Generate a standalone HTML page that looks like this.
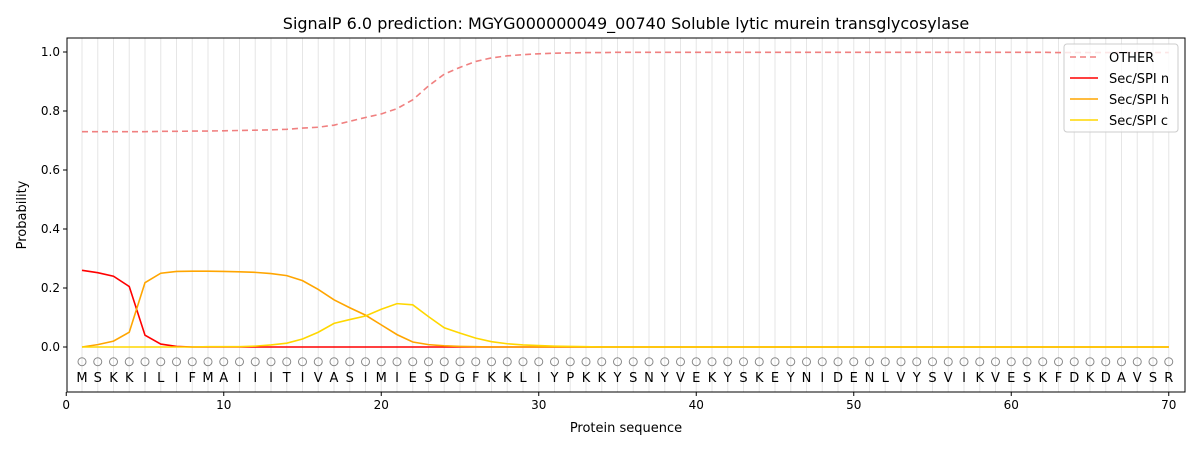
<!DOCTYPE html>
<html><head><meta charset="utf-8"><style>
body{margin:0;background:#fff;font-family:"Liberation Sans","DejaVu Sans",sans-serif}
svg text{font-family:"DejaVu Sans","Liberation Sans",sans-serif}
</style></head><body>
<svg id="chart" width="1200" height="450" xmlns="http://www.w3.org/2000/svg">
<rect width="1200" height="450" fill="#fff"/>
<text x="626" y="29" text-anchor="middle" font-size="16">SignalP 6.0 prediction: MGYG000000049_00740 Soluble lytic murein transglycosylase</text>
<g id="grid"></g><g id="marks"></g><g id="axes"></g>
<text x="626" y="432" text-anchor="middle" font-size="13">Protein sequence</text>
<text transform="translate(26,215) rotate(-90)" text-anchor="middle" font-size="13">Probability</text>
</svg>
<script>
const sequence = "MSKKILIFMAIIITIVASIMIESDGFKKLIYPKKYSNYVEKYSKEYNIDENLVYSVIKVESKFDKDAVSR".split("");
const otherVals = [0.73,0.73,0.73,0.73,0.73,0.731,0.731,0.732,0.732,0.733,0.734,0.735,0.736,0.738,0.742,0.745,0.752,0.765,0.778,0.79,0.808,0.838,0.885,0.925,0.948,0.968,0.98,0.987,0.991,0.994,0.996,0.997,0.998,0.998,0.999,0.999,0.999,0.999,0.999,0.999,0.999,0.999,0.999,0.999,0.999,0.999,0.999,0.999,0.999,0.999,0.999,0.999,0.999,0.999,0.999,0.999,0.999,0.999,0.999,0.999,0.999,0.999,0.998,0.998,0.998,0.998,0.998,0.998,0.998,0.998];
const secN = [0.26,0.252,0.24,0.205,0.04,0.01,0.002,0,0,0,0,0,0,0,0,0,0,0,0,0,0,0,0,0,0,0,0,0,0,0,0,0,0,0,0,0,0,0,0,0,0,0,0,0,0,0,0,0,0,0,0,0,0,0,0,0,0,0,0,0,0,0,0,0,0,0,0,0,0,0];
const secH = [0,0.008,0.02,0.05,0.218,0.25,0.256,0.257,0.257,0.256,0.255,0.253,0.249,0.242,0.225,0.195,0.16,0.133,0.108,0.075,0.042,0.017,0.008,0.004,0.002,0.001,0,0,0,0,0,0,0,0,0,0,0,0,0,0,0,0,0,0,0,0,0,0,0,0,0,0,0,0,0,0,0,0,0,0,0,0,0,0,0,0,0,0,0,0];
const secC = [0,0,0,0,0,0,0,0,0.001,0.001,0.001,0.003,0.007,0.013,0.027,0.05,0.08,0.093,0.105,0.128,0.147,0.143,0.103,0.065,0.047,0.03,0.018,0.011,0.007,0.005,0.003,0.002,0.001,0,0,0,0,0,0,0,0,0,0,0,0,0,0,0,0,0,0,0,0,0,0,0,0,0,0,0,0,0,0,0,0,0,0,0,0,0];
const xTicks = [0,10,20,30,40,50,60,70];
const yTicks = [0,0.2,0.4,0.6,0.8,1.0];
const seriesNames = ["OTHER","Sec/SPI n","Sec/SPI h","Sec/SPI c"];

const NS="http://www.w3.org/2000/svg";
const L=67,R=1185,T=38,B=392;
const xs=v=>66.25+v*15.75;
const ys=v=>347-v*295;
function mk(p,tag,at){const e=document.createElementNS(NS,tag);for(const k in at)e.setAttribute(k,at[k]);p.appendChild(e);return e;}
const grid=document.getElementById('grid'),marks=document.getElementById('marks'),axes=document.getElementById('axes');
sequence.forEach((aa,i)=>{
  const x=xs(i+1);
  const g=mk(grid,'line',{x1:x,x2:x,y1:T,y2:B,stroke:'#e6e6e6','stroke-width':1});
  
  
  const c=mk(grid,'circle',{cx:x,cy:ys(-0.05),r:4,fill:'none',stroke:'#888','stroke-width':1});
  
  
  const t=mk(grid,'text',{x:x,y:382,'text-anchor':'middle','font-size':13});
  t.textContent=aa;
  
  
});
const series=[[otherVals,'#f08080','6,4'],[secN,'#ff0000',''],[secH,'#ffa500',''],[secC,'#ffd700','']];
series.forEach((s,k)=>{
  const d=s[0].map((v,i)=>(i?'L':'M')+xs(i+1).toFixed(2)+' '+ys(v).toFixed(2)).join(' ');
  const p=mk(marks,'path',{d:d,fill:'none',stroke:s[1],'stroke-width':1.6});
  if(s[2])p.setAttribute('stroke-dasharray',s[2]);
  
  
});
mk(axes,'rect',{x:L,y:T,width:R-L,height:B-T,fill:'none',stroke:'#000','stroke-width':1});
xTicks.forEach(v=>{
  const x=xs(v);
  mk(axes,'line',{x1:x,x2:x,y1:B,y2:B+4,stroke:'#000'});
  const t=mk(axes,'text',{x:x,y:B+17,'text-anchor':'middle','font-size':12});
  t.textContent=v;
  
  
});
yTicks.forEach(v=>{
  const y=ys(v);
  mk(axes,'line',{x1:L-4,x2:L,y1:y,y2:y,stroke:'#000'});
  const t=mk(axes,'text',{x:L-7,y:y+4,'text-anchor':'end','font-size':12});
  t.textContent=v.toFixed(1);
  
  
});
const lg=mk(axes,'g',{});


mk(lg,'rect',{x:1064,y:44,width:114,height:88,rx:3,fill:'#fff','fill-opacity':0.8,stroke:'#ccc'});
seriesNames.forEach((n,i)=>{
  const y=57+i*21;
  const l=mk(lg,'line',{x1:1070,x2:1098,y1:y,y2:y,stroke:series[i][1],'stroke-width':1.6});
  if(series[i][2])l.setAttribute('stroke-dasharray','6,4');
  const t=mk(lg,'text',{x:1109,y:y+5,'font-size':13});
  t.textContent=n;
  
  
});
</script>
</body></html>
